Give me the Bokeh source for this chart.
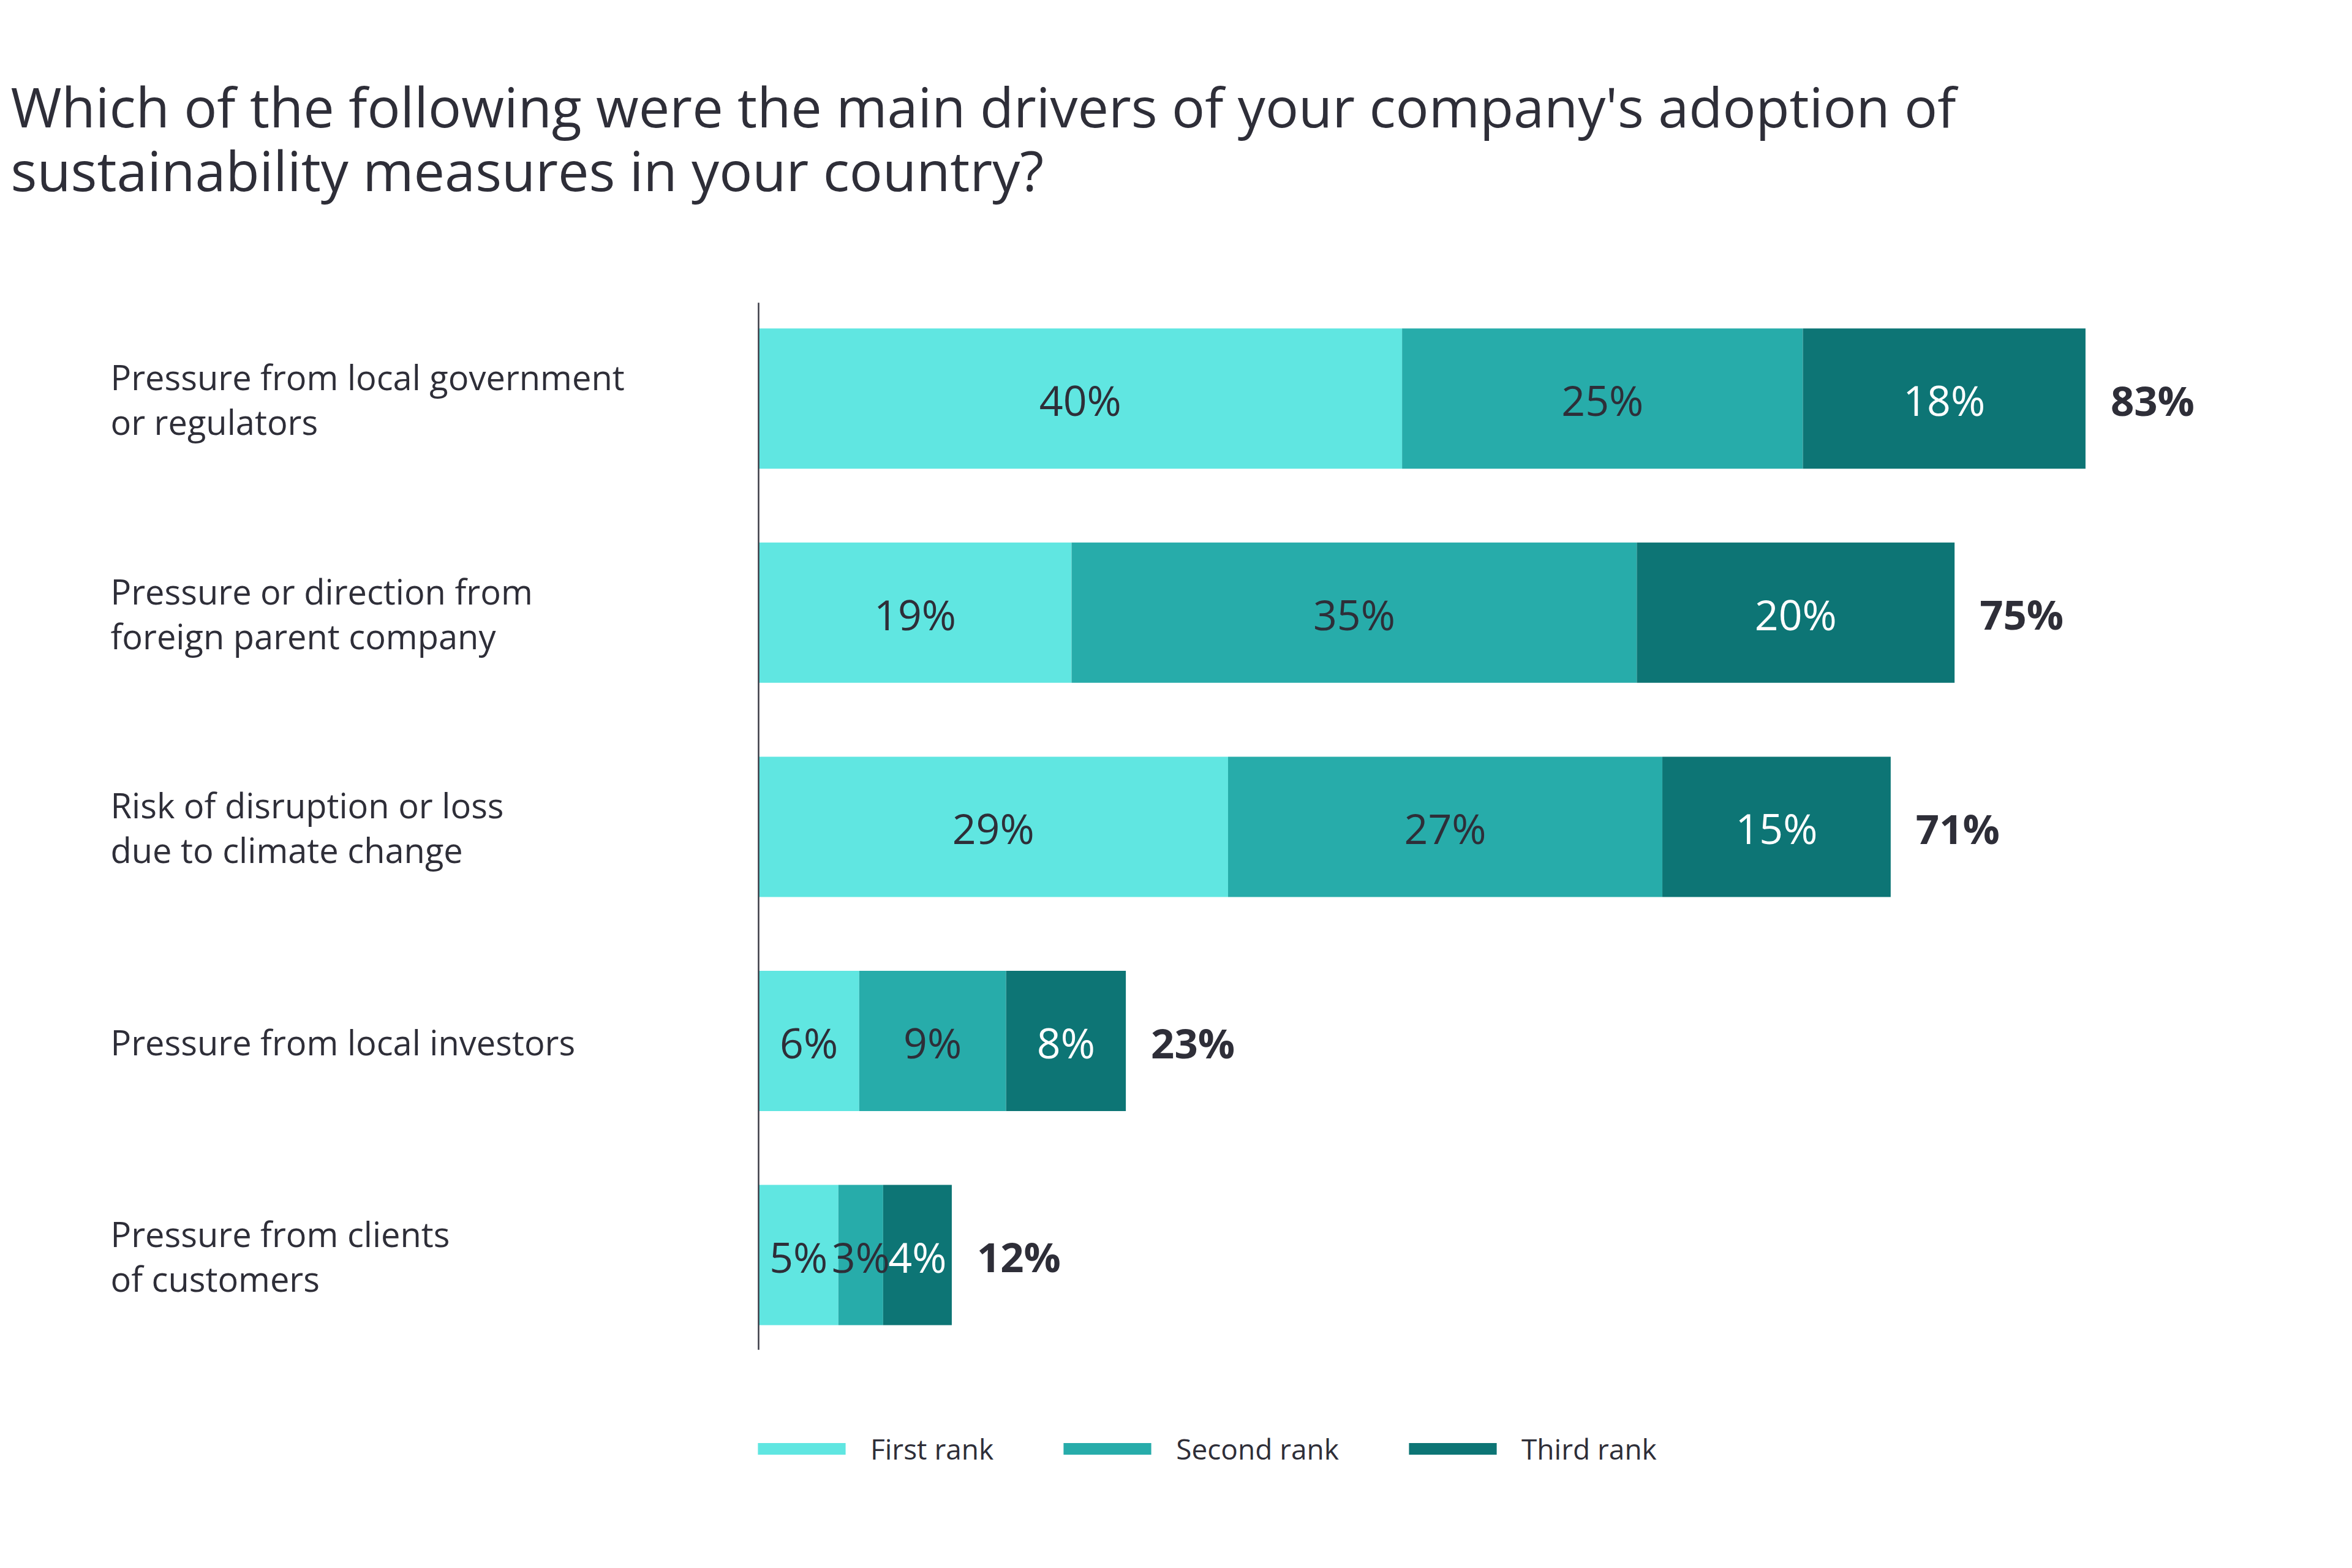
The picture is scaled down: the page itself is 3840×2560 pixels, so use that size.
from bokeh.plotting import figure
from bokeh.models import ColumnDataSource, Range1d, Legend, LegendItem
from bokeh.core.properties import value
from bokeh.embed import file_html
from bokeh.resources import INLINE

# ---------------- data ----------------
title_text = ("Which of the following were the main drivers of your company's adoption of\n"
              "sustainability measures in your country?")
categories = [
    "Pressure from local government\nor regulators",
    "Pressure or direction from\nforeign parent company",
    "Risk of disruption or loss\ndue to climate change",
    "Pressure from local investors",
    "Pressure from clients\nof customers",
]
series_names = ["First rank", "Second rank", "Third rank"]
first_rank = [40.3, 19.6, 29.4, 6.3, 5.0]
second_rank = [25.1, 35.4, 27.2, 9.2, 2.8]
third_rank = [17.7, 19.9, 14.3, 7.5, 4.3]
first_labels = ["40%", "19%", "29%", "6%", "5%"]
second_labels = ["25%", "35%", "27%", "9%", "3%"]
third_labels = ["18%", "20%", "15%", "8%", "4%"]
total_labels = ["83%", "75%", "71%", "23%", "12%"]

# ---------------- style ----------------
colors = ["#60E6E1", "#27ACAA", "#0D7575"]
in_bar_text_colors = ["#2E2E38", "#2E2E38", "#FFFFFF"]
TEXT = "#2E2E38"
FONT = "Open Sans"

FIG_W, FIG_H = 3824, 2540
X0_PX = 1238.0        # pixel position of 0 %
PX_PER_PCT = 26.07
Y0_PX = 650.2         # pixel centre of first row
ROW_PX = 349.6
BAR_H = 0.655


def dx(px):
    return (px - X0_PX) / PX_PER_PCT


def dy(py):
    return -(py - Y0_PX) / ROW_PX


p = figure(width=FIG_W, height=FIG_H, output_backend="svg", toolbar_location=None,
           x_range=Range1d(dx(0), dx(FIG_W)), y_range=Range1d(dy(FIG_H), dy(0)),
           min_border=0, x_axis_location=None, y_axis_location=None)
p.grid.visible = False
p.outline_line_color = None
p.background_fill_color = "white"

n = len(categories)
ys = [-i for i in range(n)]
src = ColumnDataSource(dict(y=ys, first=first_rank, second=second_rank, third=third_rank))
renderers = p.hbar_stack(["first", "second", "third"], y="y", height=BAR_H,
                         fill_color=colors, line_color=None, source=src)

# in-bar labels
series = [first_rank, second_rank, third_rank]
labels = [first_labels, second_labels, third_labels]
left = [0.0] * n
for k in range(3):
    xs = [left[i] + series[k][i] / 2 for i in range(n)]
    p.text(x=xs, y=ys, text=labels[k], text_align="center", text_baseline="middle",
           text_font=value(FONT), text_font_size="68px", text_color=in_bar_text_colors[k],
           y_offset=2)
    left = [left[i] + series[k][i] for i in range(n)]

# totals
p.text(x=left, y=ys, text=total_labels, text_align="left", text_baseline="middle",
       text_font=value(FONT), text_font_size="67px", text_font_style="bold",
       text_color=TEXT, x_offset=41, y_offset=2)

# category labels
p.text(x=[dx(180)] * n, y=ys, text=categories, text_align="left", text_baseline="middle",
       text_font=value(FONT), text_font_size="56px", text_color=TEXT,
       text_line_height=0.96, y_offset=1)

# vertical axis line
p.segment(x0=[0], x1=[0], y0=[BAR_H / 2 + 0.12], y1=[-(n - 1) - BAR_H / 2 - 0.115],
          line_color="#3A3A44", line_width=2.5)

# title
p.text(x=[dx(17)], y=[dy(111)], text=[title_text], text_align="left", text_baseline="top",
       text_font=value(FONT), text_font_size="90px", text_color=TEXT,
       text_line_height=0.86)

# legend
legend = Legend(items=[LegendItem(label=series_names[k], renderers=[renderers[k]]) for k in range(3)],
                orientation="horizontal", location=(1237 - 18, FIG_H - 2372 - 32 + 7),
                glyph_width=179, glyph_height=24, label_standoff=23, spacing=96,
                padding=0, margin=0, border_line_color=None, background_fill_alpha=0,
                label_text_font=FONT, label_text_font_size="46px", label_text_color=TEXT,
                label_height=64)
p.add_layout(legend)

open("out.html", "w").write(file_html(p, INLINE))
